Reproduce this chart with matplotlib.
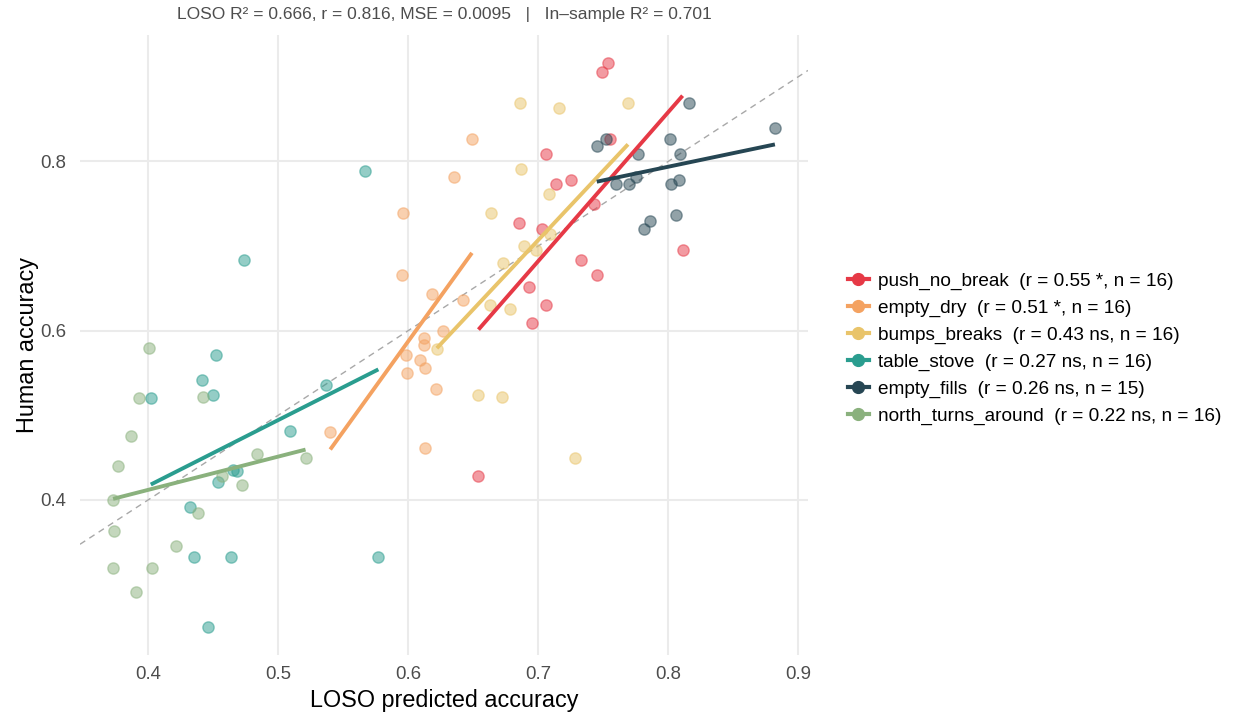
import numpy as np
import matplotlib
matplotlib.use("Agg")
import matplotlib.pyplot as plt
from matplotlib.lines import Line2D

plt.rcParams['font.family'] = ['Liberation Sans', 'DejaVu Sans']

# ---- data: LOSO predicted accuracy (x) vs human accuracy (y), per scenario ----
groups = ["push_no_break", "empty_dry", "bumps_breaks",
          "table_stove", "empty_fills", "north_turns_around"]
colors = ["#E63946", "#F4A261", "#E9C46A", "#2A9D8F", "#264653", "#8AB17D"]
legend_stats = ["(r = 0.55 *, n = 16)", "(r = 0.51 *, n = 16)",
                "(r = 0.43 ns, n = 16)", "(r = 0.27 ns, n = 16)",
                "(r = 0.26 ns, n = 15)", "(r = 0.22 ns, n = 16)"]

push_no_break_x = [0.754, 0.749, 0.755, 0.706, 0.714, 0.725, 0.685, 0.703,
                   0.743, 0.693, 0.706, 0.695, 0.811, 0.733, 0.745, 0.654]
push_no_break_y = [0.916, 0.905, 0.826, 0.809, 0.773, 0.778, 0.727, 0.720,
                   0.750, 0.652, 0.630, 0.609, 0.695, 0.684, 0.666, 0.428]

empty_dry_x = [0.649, 0.635, 0.596, 0.595, 0.618, 0.642, 0.627, 0.612,
               0.612, 0.598, 0.609, 0.613, 0.599, 0.621, 0.540, 0.613]
empty_dry_y = [0.826, 0.782, 0.739, 0.666, 0.643, 0.636, 0.600, 0.591,
               0.583, 0.571, 0.565, 0.556, 0.550, 0.531, 0.480, 0.461]

bumps_breaks_x = [0.686, 0.769, 0.716, 0.687, 0.708, 0.664, 0.709, 0.689,
                  0.698, 0.673, 0.663, 0.678, 0.622, 0.654, 0.672, 0.728]
bumps_breaks_y = [0.869, 0.869, 0.863, 0.791, 0.762, 0.739, 0.714, 0.700,
                  0.695, 0.680, 0.630, 0.625, 0.578, 0.524, 0.522, 0.450]

table_stove_x = [0.567, 0.474, 0.452, 0.441, 0.402, 0.450, 0.537, 0.509,
                 0.465, 0.468, 0.454, 0.432, 0.435, 0.464, 0.577, 0.446]
table_stove_y = [0.789, 0.684, 0.571, 0.542, 0.520, 0.524, 0.536, 0.481,
                 0.435, 0.434, 0.421, 0.391, 0.333, 0.333, 0.333, 0.250]

empty_fills_x = [0.816, 0.882, 0.745, 0.752, 0.801, 0.777, 0.809, 0.775,
                 0.760, 0.770, 0.802, 0.808, 0.786, 0.781, 0.806]
empty_fills_y = [0.869, 0.839, 0.818, 0.826, 0.827, 0.809, 0.809, 0.782,
                 0.773, 0.773, 0.773, 0.778, 0.730, 0.720, 0.737]

north_turns_around_x = [0.401, 0.393, 0.442, 0.387, 0.484, 0.521, 0.377, 0.457,
                        0.472, 0.373, 0.438, 0.374, 0.421, 0.373, 0.403, 0.391]
north_turns_around_y = [0.579, 0.520, 0.522, 0.476, 0.454, 0.450, 0.440, 0.428,
                        0.417, 0.400, 0.384, 0.363, 0.346, 0.320, 0.320, 0.291]

series_x = [push_no_break_x, empty_dry_x, bumps_breaks_x,
            table_stove_x, empty_fills_x, north_turns_around_x]
series_y = [push_no_break_y, empty_dry_y, bumps_breaks_y,
            table_stove_y, empty_fills_y, north_turns_around_y]

subtitle = "LOSO R\u00b2 = 0.666, r = 0.816, MSE = 0.0095   |   In\u2013sample R\u00b2 = 0.701"

# ---- figure ----
W, H = 1233, 715
fig = plt.figure(figsize=(W / 100, H / 100), dpi=100)
ax_left, ax_right, ax_top, ax_bottom = 80, 808, 35, 655
ax = fig.add_axes([ax_left / W, 1 - ax_bottom / H,
                   (ax_right - ax_left) / W, (ax_bottom - ax_top) / H])

all_x = np.concatenate([np.asarray(v) for v in series_x])
all_y = np.concatenate([np.asarray(v) for v in series_y])
def expanded(v, f=0.05):
    lo, hi = v.min(), v.max()
    pad = (hi - lo) * f
    return lo - pad, hi + pad
ax.set_xlim(*expanded(all_x))
ax.set_ylim(*expanded(all_y))

# identity line
ax.axline((0, 0), slope=1, color="#A8A8A8", lw=1.0, ls=(0, (4.5, 3.5)), zorder=1)

# points
for gx, gy, c in zip(series_x, series_y, colors):
    ax.scatter(gx, gy, s=66, color=c, alpha=0.5, edgecolors=c,
               linewidths=1.0, zorder=2)

# per-group least-squares fits over each group's x range
for gx, gy, c in zip(series_x, series_y, colors):
    gx = np.asarray(gx); gy = np.asarray(gy)
    slope, icpt = np.polyfit(gx, gy, 1)
    xs = np.array([gx.min(), gx.max()])
    ax.plot(xs, icpt + slope * xs, color=c, lw=2.8, solid_capstyle="butt", zorder=3)

# minimal theme
ax.set_facecolor("white")
for s in ax.spines.values():
    s.set_visible(False)
ax.set_xticks([0.4, 0.5, 0.6, 0.7, 0.8, 0.9])
ax.set_yticks([0.4, 0.6, 0.8])
fmt = matplotlib.ticker.FuncFormatter(lambda v, p: f"{v:g}")
ax.xaxis.set_major_formatter(fmt)
ax.yaxis.set_major_formatter(fmt)
ax.grid(True, color="#EBEBEB", lw=1.5, zorder=0)
ax.set_axisbelow(True)
ax.tick_params(length=0, labelsize=13.4, labelcolor="#4D4D4D")
ax.tick_params(axis="x", pad=8)
ax.tick_params(axis="y", pad=10)

ax.set_xlabel("LOSO predicted accuracy", fontsize=16.8, labelpad=4)
ax.set_ylabel("Human accuracy", fontsize=16.8, labelpad=1)

fig.text(((ax_left + ax_right) / 2) / W, 1 - 14 / H, subtitle, fontsize=12.5,
         color="#4D4D4D", ha="center", va="center")

handles = [Line2D([0], [0], color=c, lw=3, marker="o", markersize=8.5)
           for c in colors]
labels = [f"{g}  {s}" for g, s in zip(groups, legend_stats)]
fig.legend(handles, labels, loc="center left",
           bbox_to_anchor=(848 / W, 1 - 349 / H), frameon=False, borderpad=0,
           borderaxespad=0, fontsize=13.7, handlelength=1.1,
           handletextpad=0.5, labelspacing=0.5)

fig.savefig("out.png", dpi=100, facecolor="white")
